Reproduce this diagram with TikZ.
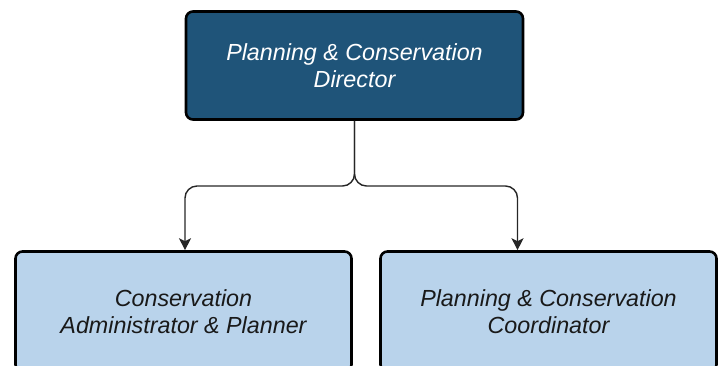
\documentclass[tikz,border=0pt]{standalone}
\usepackage{fontspec}
\setmainfont{Liberation Sans}
\usetikzlibrary{arrows.meta,calc}
\definecolor{darkbox}{HTML}{1F5479}
\definecolor{lightbox}{HTML}{B9D3EB}
\begin{document}
\begin{tikzpicture}[x=1pt,y=-1pt,
  box/.style={draw=black,line width=2.6pt,rounded corners=7pt,align=center,
    font=\fontsize{23.3}{26.5}\selectfont\itshape,inner sep=0pt},
  topbox/.style={box,fill=darkbox,text=white,minimum width=337pt,minimum height=108pt},
  subbox/.style={box,fill=lightbox,text=black!90,minimum width=336pt,minimum height=120pt},
  link/.style={draw=black!85,line width=1.4pt,rounded corners=12pt,
    -{Stealth[length=12pt,width=12pt,inset=3pt]}}]
\useasboundingbox (0,0) rectangle (722,365);
\node[topbox] (top) at (354.5,65.5) {Planning \& Conservation\\Director};
\node[subbox] (bl) at (183.5,311.5) {Conservation\\Administrator \& Planner};
\node[subbox] (br) at (548.5,311.5) {Planning \& Conservation\\Coordinator};
\coordinate (lx) at (185,186);
\coordinate (rx) at (517.5,186);
\draw[link] (top.south) |- (lx) -- (lx |- bl.north);
\draw[link] (top.south) |- (rx) -- (rx |- br.north);
\end{tikzpicture}
\end{document}
